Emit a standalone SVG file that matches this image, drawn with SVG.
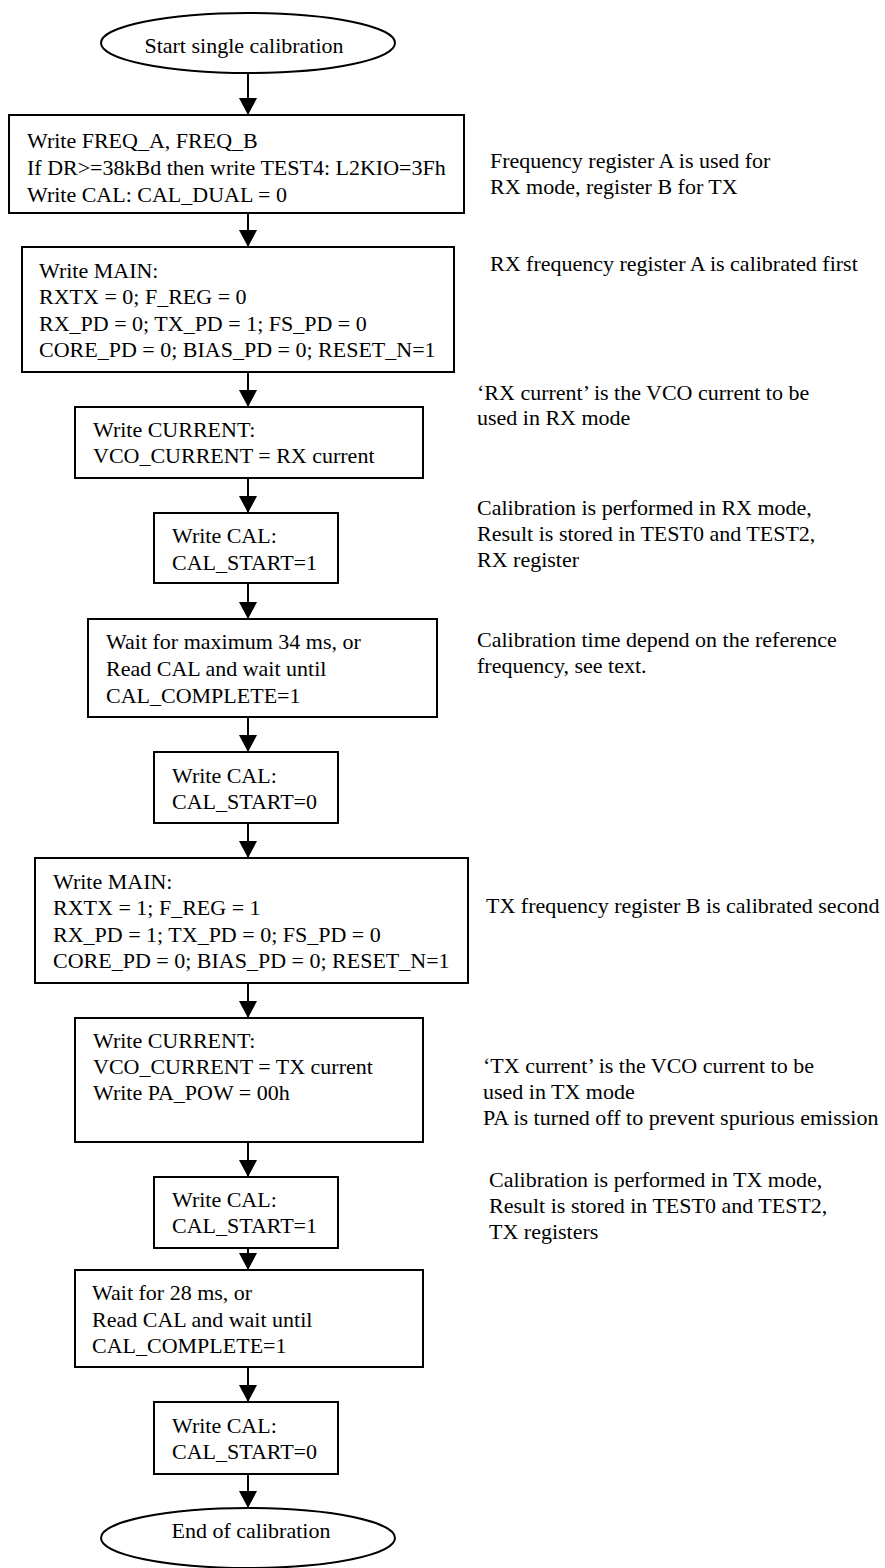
<svg xmlns="http://www.w3.org/2000/svg" width="885" height="1568" viewBox="0 0 885 1568">
<defs>
<marker id="arr" viewBox="0 0 17 18" refX="17" refY="9" markerWidth="17" markerHeight="18" markerUnits="userSpaceOnUse" orient="auto">
<path d="M0,0 L17,9 L0,18 z" fill="#000"/>
</marker>
<style>
.box{fill:#fff;stroke:#000;stroke-width:2}
.t{font-family:"Liberation Serif","Times New Roman",serif;font-size:22px;fill:#000}
.c{stroke:#000;stroke-width:2;fill:none;marker-end:url(#arr)}
</style>
</defs>
<rect width="885" height="1568" fill="#fff"/>
<g id="connectors">
<line class="c" x1="248" y1="73" x2="248" y2="115"/>
<line class="c" x1="248" y1="213" x2="248" y2="247"/>
<line class="c" x1="248" y1="372" x2="248" y2="407"/>
<line class="c" x1="248" y1="478" x2="248" y2="513"/>
<line class="c" x1="248" y1="583" x2="248" y2="619"/>
<line class="c" x1="248" y1="717" x2="248" y2="752"/>
<line class="c" x1="248" y1="823" x2="248" y2="858"/>
<line class="c" x1="248" y1="983" x2="248" y2="1018"/>
<line class="c" x1="248" y1="1142" x2="248" y2="1177"/>
<line class="c" x1="248" y1="1248" x2="248" y2="1270"/>
<line class="c" x1="248" y1="1367" x2="248" y2="1402"/>
<line class="c" x1="248" y1="1474" x2="248" y2="1508"/>
</g>
<g id="start">
<ellipse class="box" cx="248" cy="43" rx="147" ry="30"/>
<text class="t" x="244" y="53" text-anchor="middle">Start single calibration</text>
</g>
<g id="n1">
<rect class="box" x="9" y="115" width="455" height="98"/>
<text class="t" x="27" y="148">Write FREQ_A, FREQ_B</text>
<text class="t" x="27" y="175">If DR&gt;=38kBd then write TEST4: L2KIO=3Fh</text>
<text class="t" x="27" y="202">Write CAL: CAL_DUAL = 0</text>
</g>
<g id="n2">
<rect class="box" x="22" y="247" width="432" height="125"/>
<text class="t" x="39" y="278">Write MAIN:</text>
<text class="t" x="39" y="304">RXTX = 0; F_REG = 0</text>
<text class="t" x="39" y="331">RX_PD = 0; TX_PD = 1; FS_PD = 0</text>
<text class="t" x="39" y="357">CORE_PD = 0; BIAS_PD = 0; RESET_N=1</text>
</g>
<g id="n3">
<rect class="box" x="75" y="407" width="348" height="71"/>
<text class="t" x="93" y="437">Write CURRENT:</text>
<text class="t" x="93" y="463">VCO_CURRENT = RX current</text>
</g>
<g id="n4">
<rect class="box" x="154" y="513" width="184" height="70"/>
<text class="t" x="172" y="543">Write CAL:</text>
<text class="t" x="172" y="570">CAL_START=1</text>
</g>
<g id="n5">
<rect class="box" x="88" y="619" width="349" height="98"/>
<text class="t" x="106" y="649">Wait for maximum 34 ms, or</text>
<text class="t" x="106" y="676">Read CAL and wait until</text>
<text class="t" x="106" y="703">CAL_COMPLETE=1</text>
</g>
<g id="n6">
<rect class="box" x="154" y="752" width="184" height="71"/>
<text class="t" x="172" y="783">Write CAL:</text>
<text class="t" x="172" y="809">CAL_START=0</text>
</g>
<g id="n7">
<rect class="box" x="35" y="858" width="433" height="125"/>
<text class="t" x="53" y="889">Write MAIN:</text>
<text class="t" x="53" y="915">RXTX = 1; F_REG = 1</text>
<text class="t" x="53" y="942">RX_PD = 1; TX_PD = 0; FS_PD = 0</text>
<text class="t" x="53" y="968">CORE_PD = 0; BIAS_PD = 0; RESET_N=1</text>
</g>
<g id="n8">
<rect class="box" x="75" y="1018" width="348" height="124"/>
<text class="t" x="93" y="1048">Write CURRENT:</text>
<text class="t" x="93" y="1074">VCO_CURRENT = TX current</text>
<text class="t" x="93" y="1100">Write PA_POW = 00h</text>
</g>
<g id="n9">
<rect class="box" x="154" y="1177" width="184" height="71"/>
<text class="t" x="172" y="1207">Write CAL:</text>
<text class="t" x="172" y="1233">CAL_START=1</text>
</g>
<g id="n10">
<rect class="box" x="75" y="1270" width="348" height="97"/>
<text class="t" x="92" y="1300">Wait for 28 ms, or</text>
<text class="t" x="92" y="1327">Read CAL and wait until</text>
<text class="t" x="92" y="1353">CAL_COMPLETE=1</text>
</g>
<g id="n11">
<rect class="box" x="154" y="1402" width="184" height="72"/>
<text class="t" x="172" y="1433">Write CAL:</text>
<text class="t" x="172" y="1459">CAL_START=0</text>
</g>
<g id="end">
<ellipse class="box" cx="248" cy="1538" rx="147" ry="30"/>
<text class="t" x="251" y="1538" text-anchor="middle">End of calibration</text>
</g>
<g id="notes">
<text class="t" x="490" y="168">Frequency register A is used for</text>
<text class="t" x="490" y="194">RX mode, register B for TX</text>
<text class="t" x="490" y="271">RX frequency register A is calibrated first</text>
<text class="t" x="477" y="400">‘RX current’ is the VCO current to be</text>
<text class="t" x="477" y="425">used in RX mode</text>
<text class="t" x="477" y="515">Calibration is performed in RX mode,</text>
<text class="t" x="477" y="541">Result is stored in TEST0 and TEST2,</text>
<text class="t" x="477" y="567">RX register</text>
<text class="t" x="477" y="647">Calibration time depend on the reference</text>
<text class="t" x="477" y="673">frequency, see text.</text>
<text class="t" x="486" y="913">TX frequency register B is calibrated second</text>
<text class="t" x="483" y="1073">‘TX current’ is the VCO current to be</text>
<text class="t" x="483" y="1099">used in TX mode</text>
<text class="t" x="483" y="1125">PA is turned off to prevent spurious emission</text>
<text class="t" x="489" y="1187">Calibration is performed in TX mode,</text>
<text class="t" x="489" y="1213">Result is stored in TEST0 and TEST2,</text>
<text class="t" x="489" y="1239">TX registers</text>
</g>
</svg>
